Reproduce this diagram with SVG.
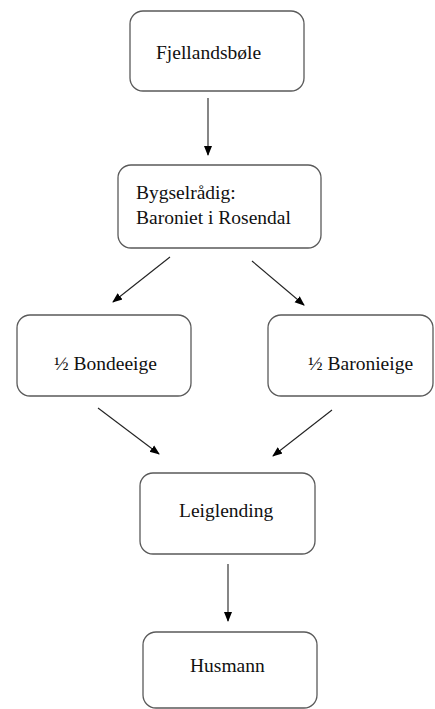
<svg xmlns="http://www.w3.org/2000/svg" width="435" height="709" viewBox="0 0 435 709">
<defs>
<style>
.box{fill:#fff;stroke:#5a5a5a;stroke-width:1.3}
.t{font-family:"Liberation Serif","Times New Roman",serif;font-size:19.5px;fill:#111}
.c{stroke:#222;stroke-width:1.1;fill:none;marker-end:url(#ah)}
</style>
<marker id="ah" markerWidth="10" markerHeight="10" refX="9" refY="5" orient="auto" markerUnits="userSpaceOnUse">
<path d="M0,1 L10,5 L0,9 Z" fill="#000"/>
</marker>
</defs>
<rect width="435" height="709" fill="#fff"/>
<g id="connectors">
<line class="c" x1="208" y1="98" x2="208" y2="155"/>
<line class="c" x1="170" y1="257" x2="113" y2="302"/>
<line class="c" x1="252" y1="261" x2="304" y2="305"/>
<line class="c" x1="98" y1="408" x2="159" y2="454"/>
<line class="c" x1="332" y1="410" x2="273" y2="456"/>
<line class="c" x1="228" y1="564" x2="228" y2="621"/>
</g>
<g id="fjellandsbole">
<rect class="box" x="130" y="11" width="174" height="80" rx="13"/>
<text class="t" x="156" y="59">Fjellandsbøle</text>
</g>
<g id="bygselradig">
<rect class="box" x="118" y="165" width="203" height="83" rx="13"/>
<text class="t" x="136" y="199">Bygselrådig:</text>
<text class="t" x="136" y="224">Baroniet i Rosendal</text>
</g>
<g id="bondeeige">
<rect class="box" x="17" y="315" width="174" height="81" rx="13"/>
<text class="t" x="54" y="370">½ Bondeeige</text>
</g>
<g id="baronieige">
<rect class="box" x="268" y="315" width="165" height="81" rx="13"/>
<text class="t" x="308" y="370">½ Baronieige</text>
</g>
<g id="leiglending">
<rect class="box" x="140" y="473" width="175" height="81" rx="13"/>
<text class="t" x="179" y="517">Leiglending</text>
</g>
<g id="husmann">
<rect class="box" x="143" y="632" width="174" height="76" rx="13"/>
<text class="t" x="190" y="672">Husmann</text>
</g>
</svg>
